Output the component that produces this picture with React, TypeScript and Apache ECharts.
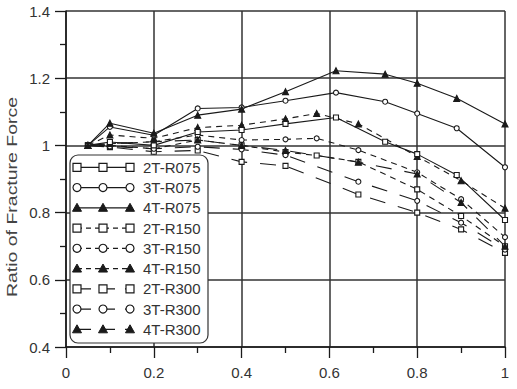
import React, { useEffect, useRef } from "react";
import * as echarts from "echarts";

// ---- data ----
const seriesNames = ["2T-R075", "3T-R075", "4T-R075", "2T-R150", "3T-R150", "4T-R150", "2T-R300", "3T-R300", "4T-R300"];

const xR075 = [0.05, 0.1, 0.2, 0.3, 0.4, 0.5, 0.615, 0.727, 0.8, 0.89, 1.0];
const y2T_R075 = [1.0, 1.01, 1.0, 1.04, 1.046, 1.064, 1.083, 1.011, 0.974, 0.912, 0.778];
const y3T_R075 = [1.0, 1.055, 1.03, 1.11, 1.113, 1.133, 1.157, 1.13, 1.095, 1.051, 0.935];
const y4T_R075 = [1.0, 1.066, 1.036, 1.09, 1.108, 1.16, 1.222, 1.212, 1.185, 1.14, 1.064];

const xR150 = [0.05, 0.1, 0.2, 0.3, 0.4, 0.5, 0.571, 0.666, 0.8, 0.9, 1.0];
const y2T_R150 = [1.0, 1.0, 0.99, 1.016, 1.0, 0.98, 0.97, 0.951, 0.869, 0.79, 0.7];
const y3T_R150 = [1.0, 1.005, 1.011, 1.031, 1.016, 1.018, 1.021, 0.986, 0.92, 0.84, 0.727];
const y4T_R150 = [1.0, 1.031, 1.021, 1.053, 1.06, 1.079, 1.095, 1.064, 0.967, 0.895, 0.813];

const xR300 = [0.05, 0.1, 0.2, 0.3, 0.4, 0.5, 0.666, 0.8, 0.9, 1.0];
const y2T_R300 = [1.0, 0.995, 0.981, 0.985, 0.951, 0.939, 0.854, 0.8, 0.75, 0.68];
const y3T_R300 = [1.0, 0.997, 0.99, 0.996, 0.988, 0.971, 0.892, 0.835, 0.77, 0.69];
const y4T_R300 = [1.0, 1.006, 1.011, 1.016, 1.0, 0.985, 0.95, 0.915, 0.83, 0.7];

const xTicks = [0, 0.2, 0.4, 0.6, 0.8, 1];
const yTicks = [0.4, 0.6, 0.8, 1, 1.2, 1.4];

const seriesX = [xR075, xR075, xR075, xR150, xR150, xR150, xR300, xR300, xR300];
const seriesY = [y2T_R075, y3T_R075, y4T_R075, y2T_R150, y3T_R150, y4T_R150, y2T_R300, y3T_R300, y4T_R300];

const INK = "#1a1a1a";
const FONT = "Liberation Sans, Arial, Helvetica, sans-serif";

function symbolOf(i: number) {
  const k = i % 3;
  return k === 0 ? "rect" : k === 1 ? "circle" : "triangle";
}
function dashOf(i: number): any {
  const g = Math.floor(i / 3);
  return g === 0 ? "solid" : g === 1 ? [6, 5] : [16, 13];
}

export default function App() {
  const ref = useRef<HTMLDivElement>(null);

  useEffect(() => {
    const chart = echarts.init(ref.current!, null, { renderer: "svg" });

    const series = seriesNames.map((name, i) => {
      const sym = symbolOf(i);
      const filled = sym === "triangle";
      return {
        name,
        type: "line",
        data: seriesX[i].map((x, j) => [x, seriesY[i][j]]),
        symbol: sym,
        symbolSize: sym === "triangle" ? 6 : 5,
        showSymbol: true,
        z: i < 3 ? 5 : 3,
        lineStyle: { color: INK, width: 1.1, type: dashOf(i) },
        itemStyle: { color: filled ? INK : "#fff", borderColor: INK, borderWidth: 1.1 },
        emphasis: { disabled: true },
      };
    });

    // legend drawn as graphic (three markers per row)
    const lg: any[] = [
      {
        type: "rect",
        shape: { x: 70, y: 155, width: 138, height: 188, r: 8 },
        style: { fill: "#fff", stroke: "#333", lineWidth: 1.2 },
        z: 100,
      },
    ];
    const mx = [77, 103, 130];
    seriesNames.forEach((name, i) => {
      const y = 167.3 + i * 20.25;
      const g = Math.floor(i / 3);
      lg.push({
        type: "line",
        shape: { x1: mx[0], y1: y, x2: mx[2], y2: y },
        style: { stroke: INK, lineWidth: 1.2, lineDash: g === 0 ? null : g === 1 ? [5, 4] : [14, 10] },
        z: 101,
      });
      const sym = symbolOf(i);
      mx.forEach((x) => {
        if (sym === "rect") {
          lg.push({ type: "rect", shape: { x: x - 4, y: y - 4, width: 8, height: 8 }, style: { fill: "#fff", stroke: INK, lineWidth: 1.2 }, z: 102 });
        } else if (sym === "circle") {
          lg.push({ type: "circle", shape: { cx: x, cy: y, r: 4 }, style: { fill: "#fff", stroke: INK, lineWidth: 1.2 }, z: 102 });
        } else {
          lg.push({ type: "polygon", shape: { points: [[x, y - 4.5], [x + 4.5, y + 3.5], [x - 4.5, y + 3.5]] }, style: { fill: INK, stroke: INK, lineWidth: 1 }, z: 102 });
        }
      });
      lg.push({
        type: "text",
        x: 143,
        y,
        style: { text: name, font: `15px ${FONT}`, fill: "#333", verticalAlign: "middle", align: "left" },
        z: 102,
      });
    });
    lg.push({
      type: "text",
      x: 12,
      y: 197,
      rotation: Math.PI / 2,
      scaleX: 1.3,
      style: { text: "Ratio of Fracture Force", font: `15px ${FONT}`, fill: "#444", align: "center", verticalAlign: "middle" },
      z: 50,
    });

    const axisCommon = {
      type: "value" as const,
      axisLine: { show: true, onZero: false, lineStyle: { color: INK, width: 1.5 } },
      axisTick: { show: true, length: 11, lineStyle: { color: INK, width: 1.3 } },
      minorTick: { show: true, splitNumber: 2, length: 6, lineStyle: { color: INK, width: 1.3 } },
      splitLine: { show: true, lineStyle: { color: "#333", width: 1.5 } },
      axisLabel: { color: "#333", fontSize: 15, fontFamily: FONT },
    };

    chart.setOption({
      animation: false,
      backgroundColor: "#fff",
      grid: { left: 66, right: 12, top: 11, bottom: 42, containLabel: false },
      xAxis: {
        ...axisCommon,
        min: xTicks[0],
        max: xTicks[xTicks.length - 1],
        interval: 0.2,
        axisLabel: { ...axisCommon.axisLabel, margin: 18 },
      },
      yAxis: {
        ...axisCommon,
        min: yTicks[0],
        max: yTicks[yTicks.length - 1],
        interval: 0.2,
        axisLabel: { ...axisCommon.axisLabel, margin: 16 },
      },
      legend: { show: false },
      series,
      graphic: lg,
    });

    return () => chart.dispose();
  }, []);

  return (
    <div
      ref={ref}
      style={{ position: "fixed", left: 0, top: 0, width: 517, height: 389, background: "#fff" }}
    />
  );
}
